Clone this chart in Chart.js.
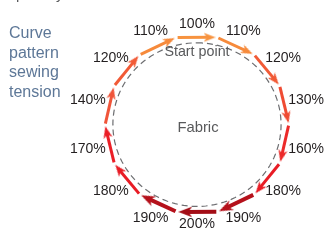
<!DOCTYPE html>
<html>
<head>
<meta charset="utf-8">
<script src="https://cdn.jsdelivr.net/npm/chart.js@4.4.1/dist/chart.umd.min.js"></script>
<style>
  html, body { margin: 0; padding: 0; background: #fff; }
  #wrap { position: relative; width: 336px; height: 242px; overflow: hidden; }
</style>
</head>
<body>
<div id="wrap"><canvas id="tension-chart" width="336" height="242"></canvas></div>
<script>
// tension for each step around the curve, clockwise from the start point
const stepLabels = ['100%', '110%', '120%', '130%', '160%', '180%', '190%', '200%', '190%', '180%', '170%', '140%', '120%', '110%'];
const stepValues = [100, 110, 120, 130, 160, 180, 190, 200, 190, 180, 170, 140, 120, 110];
const titleLines = ['Curve', 'pattern', 'sewing', 'tension'];
const innerLabels = ['Start point', 'Fabric'];
const cutText = 'quantity';

// colour used for each tension value
const tensionColours = {
  100: '#f7933f', 110: '#f68a3b', 120: '#f15a36', 130: '#ef4b33', 140: '#f0553a',
  160: '#ec2a2a', 170: '#eb1e26', 180: '#e81c25', 190: '#b5111b', 200: '#a30d16'
};

const R_ARROW = 98;   // radius the arrows run on
const R_DASH = 90;    // dashed fabric edge
const step = 360 / stepValues.length;
const rad = d => d * Math.PI / 180;
const onCircle = (r, deg) => ({ x: r * Math.sin(rad(deg)), y: r * Math.cos(rad(deg)) });

// notched arrow head drawn pointing up, used as the point style
function arrowHead(colour, size) {
  const c = document.createElement('canvas');
  c.width = size; c.height = size;
  const g = c.getContext('2d');
  g.fillStyle = colour;
  g.beginPath();
  g.moveTo(size / 2, 0);
  g.lineTo(size * 0.88, size);
  g.lineTo(size / 2, size * 0.72);
  g.lineTo(size * 0.12, size);
  g.closePath();
  g.fill();
  return c;
}

// one dataset per arrow, a straight chord with a head at the end
const arrowSets = stepValues.map((v, i) => {
  const mid = i * step;
  const size = v >= 190 ? 14 : 12;
  const a = onCircle(R_ARROW, mid - 12.2);
  const tip = onCircle(R_ARROW, mid + 11.5);
  const len = Math.hypot(tip.x - a.x, tip.y - a.y);
  const back = size / 2;
  const end = { x: tip.x - (tip.x - a.x) / len * back, y: tip.y - (tip.y - a.y) / len * back };
  const colour = tensionColours[v];
  return {
    data: [a, end],
    showLine: true,
    borderColor: colour,
    backgroundColor: colour,
    borderWidth: v >= 190 ? 4 : 3,
    pointRadius: [0, size / 2],
    pointStyle: arrowHead(colour, size),
    pointRotation: mid + 90,
    clip: false
  };
});

const dashPoints = [];
for (let d = 0; d <= 360; d += 3) dashPoints.push(onCircle(R_DASH, d));

const textPlugin = {
  id: 'texts',
  afterDatasetsDraw(chart) {
    const ctx = chart.ctx;
    const xs = chart.scales.x, ys = chart.scales.y;
    const px = p => ({ x: xs.getPixelForValue(p.x), y: ys.getPixelForValue(p.y) });
    ctx.save();
    ctx.textAlign = 'center';
    ctx.textBaseline = 'middle';
    ctx.font = '14px "Liberation Sans", Arial, sans-serif';
    ctx.fillStyle = '#231f20';
    stepLabels.forEach((lab, i) => {
      const mid = i * step;
      const r = 110 + 10 * Math.abs(Math.sin(rad(mid)));
      const p = px(onCircle(r, mid));
      ctx.fillText(lab, p.x, p.y);
    });
    const c = px({ x: 0, y: 0 });
    ctx.fillStyle = '#58595b';
    ctx.font = '14.3px "Liberation Sans", Arial, sans-serif';
    ctx.fillText(innerLabels[0], c.x, c.y - 73);
    ctx.font = '14.8px "Liberation Sans", Arial, sans-serif';
    ctx.fillText(innerLabels[1], c.x + 1, c.y + 3);

    ctx.textAlign = 'left';
    ctx.fillStyle = '#5d7797';
    ctx.font = '16px "Liberation Sans", Arial, sans-serif';
    titleLines.forEach((t, i) => ctx.fillText(t, 9, 34 + i * 19.5));

    ctx.textBaseline = 'alphabetic';
    ctx.fillStyle = '#58595b';
    ctx.font = '15px "Liberation Sans", Arial, sans-serif';
    ctx.fillText(cutText, 11, -1);
    ctx.restore();
  }
};

new Chart(document.getElementById('tension-chart'), {
  type: 'scatter',
  data: {
    datasets: [{
      data: dashPoints,
      showLine: true,
      borderColor: '#6d6e71',
      borderWidth: 1.2,
      borderDash: [6, 4],
      pointRadius: 0,
      clip: false
    }].concat(arrowSets)
  },
  options: {
    responsive: false,
    animation: false,
    events: [],
    layout: { padding: 0 },
    plugins: { legend: { display: false }, tooltip: { enabled: false }, title: { display: false } },
    scales: {
      x: { type: 'linear', display: false, min: -199, max: 137 },
      y: { type: 'linear', display: false, min: -117, max: 125 }
    }
  },
  plugins: [textPlugin]
});
</script>
</body>
</html>
